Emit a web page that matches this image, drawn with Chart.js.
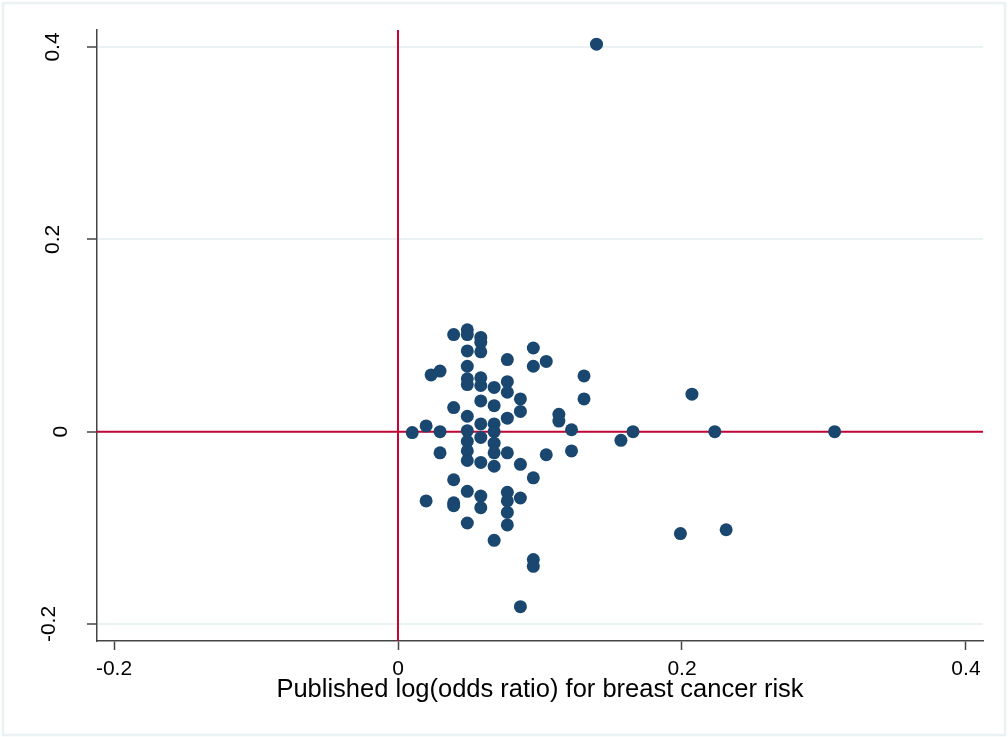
<!DOCTYPE html>
<html><head><meta charset="utf-8">
<script src="https://cdn.jsdelivr.net/npm/chart.js@4.4.1/dist/chart.umd.min.js"></script>
<style>html,body{margin:0;padding:0;background:#fff;overflow:hidden}#wrap{width:1008px;height:737px;position:relative}</style>
</head><body><div id="wrap"><canvas id="c" width="1008" height="737"></canvas></div>
<script>
// Published log(odds ratio) (x) against the plotted y value
const xValues = [
  0.0100, 0.0198, 0.0198, 0.0233, 0.0296, 0.0296, 0.0296,
  0.0392, 0.0392, 0.0392, 0.0392, 0.0392,
  0.0488, 0.0488, 0.0488, 0.0488, 0.0488, 0.0488, 0.0488, 0.0488, 0.0488, 0.0488, 0.0488, 0.0488, 0.0488,
  0.0583, 0.0583, 0.0583, 0.0583, 0.0583, 0.0583, 0.0583, 0.0583, 0.0583, 0.0583, 0.0583,
  0.0677, 0.0677, 0.0677, 0.0677, 0.0677, 0.0677, 0.0677, 0.0677,
  0.0770, 0.0770, 0.0770, 0.0770, 0.0770, 0.0770, 0.0770, 0.0770, 0.0770,
  0.0862, 0.0862, 0.0862, 0.0862, 0.0862,
  0.0953, 0.0953, 0.0953, 0.0953, 0.0953,
  0.1044, 0.1044, 0.1133, 0.1133, 0.1222, 0.1222, 0.1310, 0.1310,
  0.1398, 0.1570, 0.1655, 0.1989, 0.2070, 0.2231, 0.2311, 0.3075
];
const yValues = [
  -0.001, 0.006, -0.072, 0.059, 0.063, 0.000, -0.022,
  0.101, 0.025, -0.050, -0.074, -0.077,
  0.106, 0.101, 0.084, 0.068, 0.055, 0.049, 0.016, 0.001, -0.010, -0.020, -0.030, -0.062, -0.095,
  0.098, 0.093, 0.083, 0.056, 0.048, 0.032, 0.008, -0.006, -0.032, -0.067, -0.079,
  0.046, 0.027, 0.008, 0.000, -0.012, -0.022, -0.036, -0.113,
  0.075, 0.052, 0.041, 0.014, -0.022, -0.063, -0.072, -0.084, -0.097,
  0.034, 0.021, -0.034, -0.069, -0.182,
  0.087, 0.068, -0.048, -0.133, -0.140,
  0.073, -0.024, 0.018, 0.011, 0.002, -0.020, 0.058, 0.034,
  0.403, -0.009, 0.000, -0.106, 0.039, 0.000, -0.102, 0.000
];
const xTicks = [-0.2, 0, 0.2, 0.4];
const xTickLabels = ['-0.2', '0', '0.2', '0.4'];
const yTicks = [-0.2, 0, 0.2, 0.4];
const yTickLabels = ['-0.2', '0', '0.2', '0.4'];
const xRange = [-0.212, 0.412];
const yRange = [-0.2177, 0.4177];
const refLineX = 0;
const refLineY = 0;
const xTitle = 'Published log(odds ratio) for breast cancer risk';

const FONT = '"Liberation Sans", Arial, sans-serif';

const framePlugin = {
  id: 'frame',
  beforeDraw(chart) {
    const ctx = chart.ctx;
    ctx.save();
    ctx.fillStyle = '#ffffff';
    ctx.fillRect(0, 0, chart.width, chart.height);
    ctx.strokeStyle = '#eaf2f3';
    ctx.lineWidth = 2.5;
    ctx.strokeRect(3, 3, 1002, 732);
    ctx.restore();
  }
};

// vertical (rotated) y tick labels, placed like the reference: the unrotated
// label box is right-aligned to an anchor, then turned about its centre
const yLabelPlugin = {
  id: 'yLabels',
  afterDraw(chart) {
    const s = chart.scales.y;
    const ctx = chart.ctx;
    const size = 21;
    const anchor = 65.6;
    ctx.save();
    ctx.font = size + 'px ' + FONT;
    ctx.fillStyle = '#000';
    s.ticks.forEach(t => {
      const py = s.getPixelForValue(t.value);
      const label = yTickLabels[yTicks.indexOf(t.value)];
      const w = ctx.measureText(label).width;
      const cx = anchor - w / 2;
      ctx.save();
      ctx.translate(cx + size * 0.358, py);
      ctx.rotate(-Math.PI / 2);
      ctx.textAlign = 'center';
      ctx.textBaseline = 'alphabetic';
      ctx.fillText(label, 0, 0);
      ctx.restore();
    });
    ctx.restore();
  }
};

new Chart(document.getElementById('c'), {
  type: 'scatter',
  data: {
    datasets: [
      {
        label: 'studies',
        data: xValues.map((x, i) => ({x: x, y: yValues[i]})),
        backgroundColor: '#1a476f',
        borderColor: '#1a476f',
        borderWidth: 0,
        pointRadius: 6.5,
        pointHoverRadius: 6.5,
        order: 0
      },
      {
        label: 'x0',
        data: [{x: refLineX, y: yRange[0]}, {x: refLineX, y: yRange[1]}],
        showLine: true,
        borderColor: '#c10534',
        borderWidth: 2,
        pointRadius: 0,
        order: 1
      },
      {
        label: 'y0',
        data: [{x: xRange[0], y: refLineY}, {x: xRange[1], y: refLineY}],
        showLine: true,
        borderColor: '#c10534',
        borderWidth: 2,
        pointRadius: 0,
        order: 1
      }
    ]
  },
  options: {
    responsive: false,
    animation: false,
    devicePixelRatio: 1,
    layout: {padding: {top: 30, right: 25, left: 0, bottom: 0}},
    plugins: {legend: {display: false}, tooltip: {enabled: false}, title: {display: false}},
    scales: {
      x: {
        type: 'linear',
        min: xRange[0],
        max: xRange[1],
        afterBuildTicks: s => { s.ticks = xTicks.map(v => ({value: v})); },
        afterFit: s => { s.height = 96; },
        ticks: {
          autoSkip: false, maxRotation: 0, minRotation: 0,
          padding: 7,
          color: '#000',
          font: {family: FONT, size: 21},
          callback: v => xTickLabels[xTicks.indexOf(v)]
        },
        grid: {drawOnChartArea: false, drawTicks: true, tickLength: 9, tickColor: '#444', tickWidth: 1.5},
        border: {display: true, color: '#444', width: 1.5},
        title: {display: true, text: xTitle, color: '#000', font: {family: FONT, size: 25.5}, padding: {top: 0, bottom: 32}}
      },
      y: {
        type: 'linear',
        min: yRange[0],
        max: yRange[1],
        afterBuildTicks: s => { s.ticks = yTicks.map(v => ({value: v})); },
        afterFit: s => { s.width = 97; },
        ticks: {display: false},
        grid: {color: '#eaf2f3', lineWidth: 2, drawTicks: true, tickLength: 10, tickColor: '#444', tickWidth: 1.5},
        border: {display: true, color: '#444', width: 1.5}
      }
    }
  },
  plugins: [framePlugin, yLabelPlugin]
});
</script>
</body></html>
